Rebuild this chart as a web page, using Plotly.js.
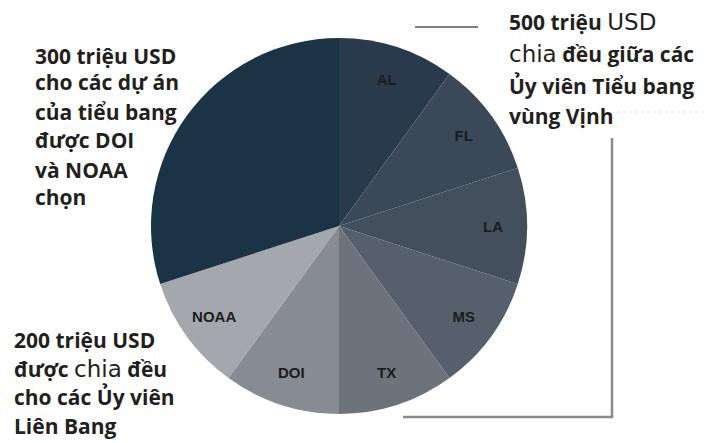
<!DOCTYPE html>
<html>
<head>
<meta charset="utf-8">
<script src="https://cdn.plot.ly/plotly-3.0.1.min.js"></script>
<style>html,body{margin:0;padding:0;background:#fff;}#chart{width:707px;height:443px;}</style>
</head>
<body>
<div id="chart"></div>
<script>
// Data (triệu USD)
const sliceLabels = ['AL', 'FL', 'LA', 'MS', 'TX', 'DOI', 'NOAA', 'Dự án tiểu bang'];
const sliceValues = [100, 100, 100, 100, 100, 100, 100, 300];
const sliceText = ['AL', 'FL', 'LA', 'MS', 'TX', 'DOI', 'NOAA', ''];
const sliceColors = ['#283a4b', '#3a4858', '#434f5d', '#565f6c', '#6c737d', '#878c94', '#a4a8ae', '#1a3446'];

const W = 707, H = 443;
const px = x => x / W;
const py = y => 1 - y / H;

// pie geometry
const cx = 339, cy = 226, R = 188;
const dom = {x: [px(cx - R), px(cx + R)], y: [py(cy + R), py(cy - R)]};

const mainFont = 'Open Sans, sans-serif';
const altFont = 'DejaVu Sans, sans-serif';
const textColor = '#231f1c';
const fs = 21;

const alt = (t, s) => `<span style="font-family:${altFont};font-size:${s}px;font-weight:normal">${t}</span>`;

const blocks = [
  {x: 33, lines: [
    ['300 triệu USD', 56], ['cho các dự án', 82], ['của tiểu bang', 112],
    ['được DOI', 140], ['và NOAA', 170], ['chọn', 197]]},
  {x: 507, lines: [
    ['500 triệu ' + alt('USD', 23), 22], [alt('chia', 23) + ' đều giữa các', 54],
    ['Ủy viên Tiểu bang', 86], ['vùng Vịnh', 116]]},
  {x: 12, lines: [
    ['200 triệu USD', 340], ['được ' + alt('chia', 23) + ' đều', 369],
    ['cho các Ủy viên', 397], ['Liên Bang', 426]]}
];

const annotations = [];
blocks.forEach(b => b.lines.forEach(([t, y]) => {
  annotations.push({
    xref: 'paper', yref: 'paper', x: px(b.x), y: py(y),
    xanchor: 'left', yanchor: 'middle', showarrow: false, align: 'left',
    text: t, font: {family: mainFont, size: fs, color: textColor, weight: 'bold'}
  });
}));

const data = [
  {
    type: 'pie', labels: sliceLabels, values: sliceValues, sort: false,
    direction: 'clockwise', rotation: 0, domain: dom,
    marker: {colors: sliceColors, line: {width: 0}},
    textinfo: 'none', hoverinfo: 'label+value', showlegend: false
  },
  {
    type: 'pie', labels: sliceLabels, values: sliceValues, sort: false,
    direction: 'clockwise', rotation: 0, domain: dom, hole: 0.64,
    marker: {colors: sliceValues.map(() => 'rgba(0,0,0,0)'), line: {width: 0}},
    text: sliceText, textinfo: 'text', textposition: 'inside',
    insidetextorientation: 'horizontal',
    textfont: {family: 'Liberation Sans, Arial, sans-serif', size: 15, color: '#1c1c1c', weight: 'bold'},
    hoverinfo: 'skip', showlegend: false
  }
];

const shapes = [
  {type: 'line', xref: 'paper', yref: 'paper', x0: px(415), x1: px(478), y0: py(27), y1: py(27),
   line: {color: '#7f7f7f', width: 2}},
  {type: 'path', xref: 'paper', yref: 'paper',
   path: `M ${px(612)} ${py(138)} L ${px(612)} ${py(417)} L ${px(403)} ${py(417)}`,
   line: {color: '#8a8a8a', width: 2.5}},
  {type: 'line', xref: 'paper', yref: 'paper', x0: px(617), x1: px(707), y0: py(112), y1: py(112),
   line: {color: '#dedede', width: 1, dash: 'dot'}}
];

const layout = {
  width: W, height: H, margin: {l: 0, r: 0, t: 0, b: 0},
  paper_bgcolor: '#ffffff', plot_bgcolor: '#ffffff',
  showlegend: false, annotations: annotations, shapes: shapes
};

Plotly.newPlot('chart', data, layout, {displayModeBar: false, staticPlot: true});
</script>
</body>
</html>
